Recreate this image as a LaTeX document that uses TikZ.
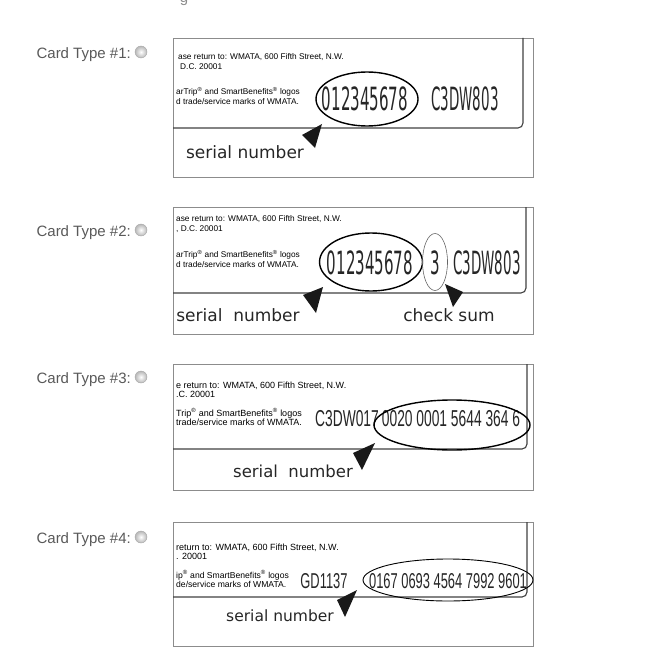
\documentclass[tikz,border=0pt]{standalone}
\usepackage{fontspec}
\setmainfont{Liberation Sans}
\newfontfamily\cardfont{DejaVu Sans}
\newfontfamily\cardnumfont[FakeStretch=0.47]{DejaVu Sans}
\newfontfamily\cardcodefont[FakeStretch=0.42]{DejaVu Sans}
\newfontfamily\narrowfont[FakeStretch=0.6]{Liberation Sans}
\usetikzlibrary{shapes.geometric}

\tikzset{
  cardlabel/.style={anchor=base east, inner sep=0, text=black!65, font=\fontsize{15}{15}\selectfont},
  radio/.style={circle, minimum size=12, inner sep=0, draw=black!35, inner color=white, outer color=black!28},
  cardbox/.style={draw=black!45, line width=0.8},
  cardedge/.style={draw=black!75, line width=1.1, rounded corners=5},
  fineprint/.style={anchor=west, align=left, inner sep=0, text=black, font=\fontsize{8.3}{10}\selectfont},
  bignum/.style={inner sep=0, text=black!85, font=\cardnumfont\fontsize{32}{32}\selectfont},
  bigcode/.style={inner sep=0, text=black!85, font=\cardcodefont\fontsize{32}{32}\selectfont},
  longnum/.style={inner sep=0, text=black!85, font=\narrowfont\fontsize{23}{23}\selectfont},
  ring/.style={ellipse, draw, line width=1.4, inner sep=0},
  pointer/.style={fill=black!90},
  tag/.style={inner sep=0, text=black!85, font=\cardfont\fontsize{17}{17}\selectfont},
}
\newcommand{\reg}{\textsuperscript{®}}

\begin{document}
\begin{tikzpicture}[x=1pt, y=-1pt]

\useasboundingbox (0,0) rectangle (652,666);

% Cut-off text at the top edge
\node[anchor=base, inner sep=0, text=black!45, font=\fontsize{15}{15}\selectfont] (cut) at (184,3) {g};

% Card 1
\node[cardlabel] (lab1) at (131,59) {Card Type \#1:};
\node[radio] (rad1) at (141,52) {};
\draw[cardbox] (173,38) rectangle (533,177);
\draw[cardedge] (523,38) -- (523,128) -- (173,128);
\node[fineprint] (fa1) at (178,62) {ase return to: WMATA, 600 Fifth Street, N.W.\\\hspace{2pt}D.C. 20001};
\node[fineprint] (fb1) at (176,96) {arTrip\reg{} and SmartBenefits\reg{} logos\\d trade/service marks of WMATA.};
\node[bignum] (num1) at (365,99) {012345678};
\node[bigcode] (code1) at (465,99) {C3DW803};
\node[ring, minimum width=102, minimum height=54] (ring1) at (367,99) {};
\coordinate (p1a) at (322,124);
\coordinate (p1b) at (302,135);
\coordinate (p1c) at (315,148);
\fill[pointer] (p1a) -- (p1b) -- (p1c) -- cycle;
\node[tag] (ser1) at (245,152) {serial number};

% Card 2
\node[cardlabel] (lab2) at (131,236) {Card Type \#2:};
\node[radio] (rad2) at (141,230) {};
\draw[cardbox] (173,207) rectangle (533,334);
\draw[cardedge] (526,207) -- (526,293) -- (173,293);
\node[fineprint] (fa2) at (176,224) {ase return to: WMATA, 600 Fifth Street, N.W.\\, D.C. 20001};
\node[fineprint] (fb2) at (176,259) {arTrip\reg{} and SmartBenefits\reg{} logos\\d trade/service marks of WMATA.};
\node[bignum] (num2) at (370,263) {012345678};
\node[bignum] (chk2) at (435,263) {3};
\node[bigcode] (code2) at (487,263) {C3DW803};
\node[ring, minimum width=103, minimum height=58] (ring2) at (371,262) {};
\node[ring, line width=0.6, draw=black!60, minimum width=25, minimum height=57] (ring2b) at (435,262) {};
\coordinate (p2a) at (323,287);
\coordinate (p2b) at (303,295);
\coordinate (p2c) at (316,313);
\fill[pointer] (p2a) -- (p2b) -- (p2c) -- cycle;
\coordinate (q2a) at (445,284);
\coordinate (q2b) at (463,292);
\coordinate (q2c) at (453,307);
\fill[pointer] (q2a) -- (q2b) -- (q2c) -- cycle;
\node[tag] (ser2) at (238,315) {serial\ \ number};
\node[tag] (sum2) at (449,315) {check sum};

% Card 3
\node[cardlabel] (lab3) at (131,383) {Card Type \#3:};
\node[radio] (rad3) at (141,377) {};
\draw[cardbox] (173,364) rectangle (533,490);
\draw[cardedge] (527,364) -- (527,449) -- (173,449);
\node[fineprint, font=\fontsize{9}{9}\selectfont] (fa3) at (176,390) {e return to: WMATA, 600 Fifth Street, N.W.\\.C. 20001};
\node[fineprint, font=\fontsize{9}{8.5}\selectfont] (fb3) at (176,417) {Trip\reg{} and SmartBenefits\reg{} logos\\trade/service marks of WMATA.};
\node[longnum] (code3) at (347,419) {C3DW017};
\node[longnum] (num3) at (451,419) {0020 0001 5644 364 6};
\node[ring, minimum width=156, minimum height=50] (ring3) at (452,425) {};
\coordinate (p3a) at (375,443);
\coordinate (p3b) at (353,453);
\coordinate (p3c) at (362,470);
\fill[pointer] (p3a) -- (p3b) -- (p3c) -- cycle;
\node[tag, font=\cardfont\fontsize{16.5}{16.5}\selectfont] (ser3) at (293,471) {serial\ \ number};

% Card 4
\node[cardlabel] (lab4) at (131,543) {Card Type \#4:};
\node[radio] (rad4) at (141,537) {};
\draw[cardbox] (173,522) rectangle (533,646);
\draw[cardedge] (527,522) -- (527,597) -- (173,597);
\node[fineprint, font=\fontsize{9}{9}\selectfont] (fa4) at (176,552) {return to: WMATA, 600 Fifth Street, N.W.\\. 20001};
\node[fineprint, font=\fontsize{8.6}{8}\selectfont] (fb4) at (176,579) {ip\reg{} and SmartBenefits\reg{} logos\\de/service marks of WMATA.};
\node[longnum, font=\narrowfont\fontsize{21.5}{21.5}\selectfont] (code4) at (324,581) {GD1137};
\node[longnum, font=\narrowfont\fontsize{21.5}{21.5}\selectfont] (num4) at (448,581) {0167 0693 4564 7992 9601};
\node[ring, line width=0.9, minimum width=170, minimum height=42] (ring4) at (448,580) {};
\coordinate (p4a) at (357,590);
\coordinate (p4b) at (337,600);
\coordinate (p4c) at (345,617);
\fill[pointer] (p4a) -- (p4b) -- (p4c) -- cycle;
\node[tag, font=\cardfont\fontsize{15.5}{15.5}\selectfont] (ser4) at (280,616) {serial number};

\end{tikzpicture}
\end{document}
